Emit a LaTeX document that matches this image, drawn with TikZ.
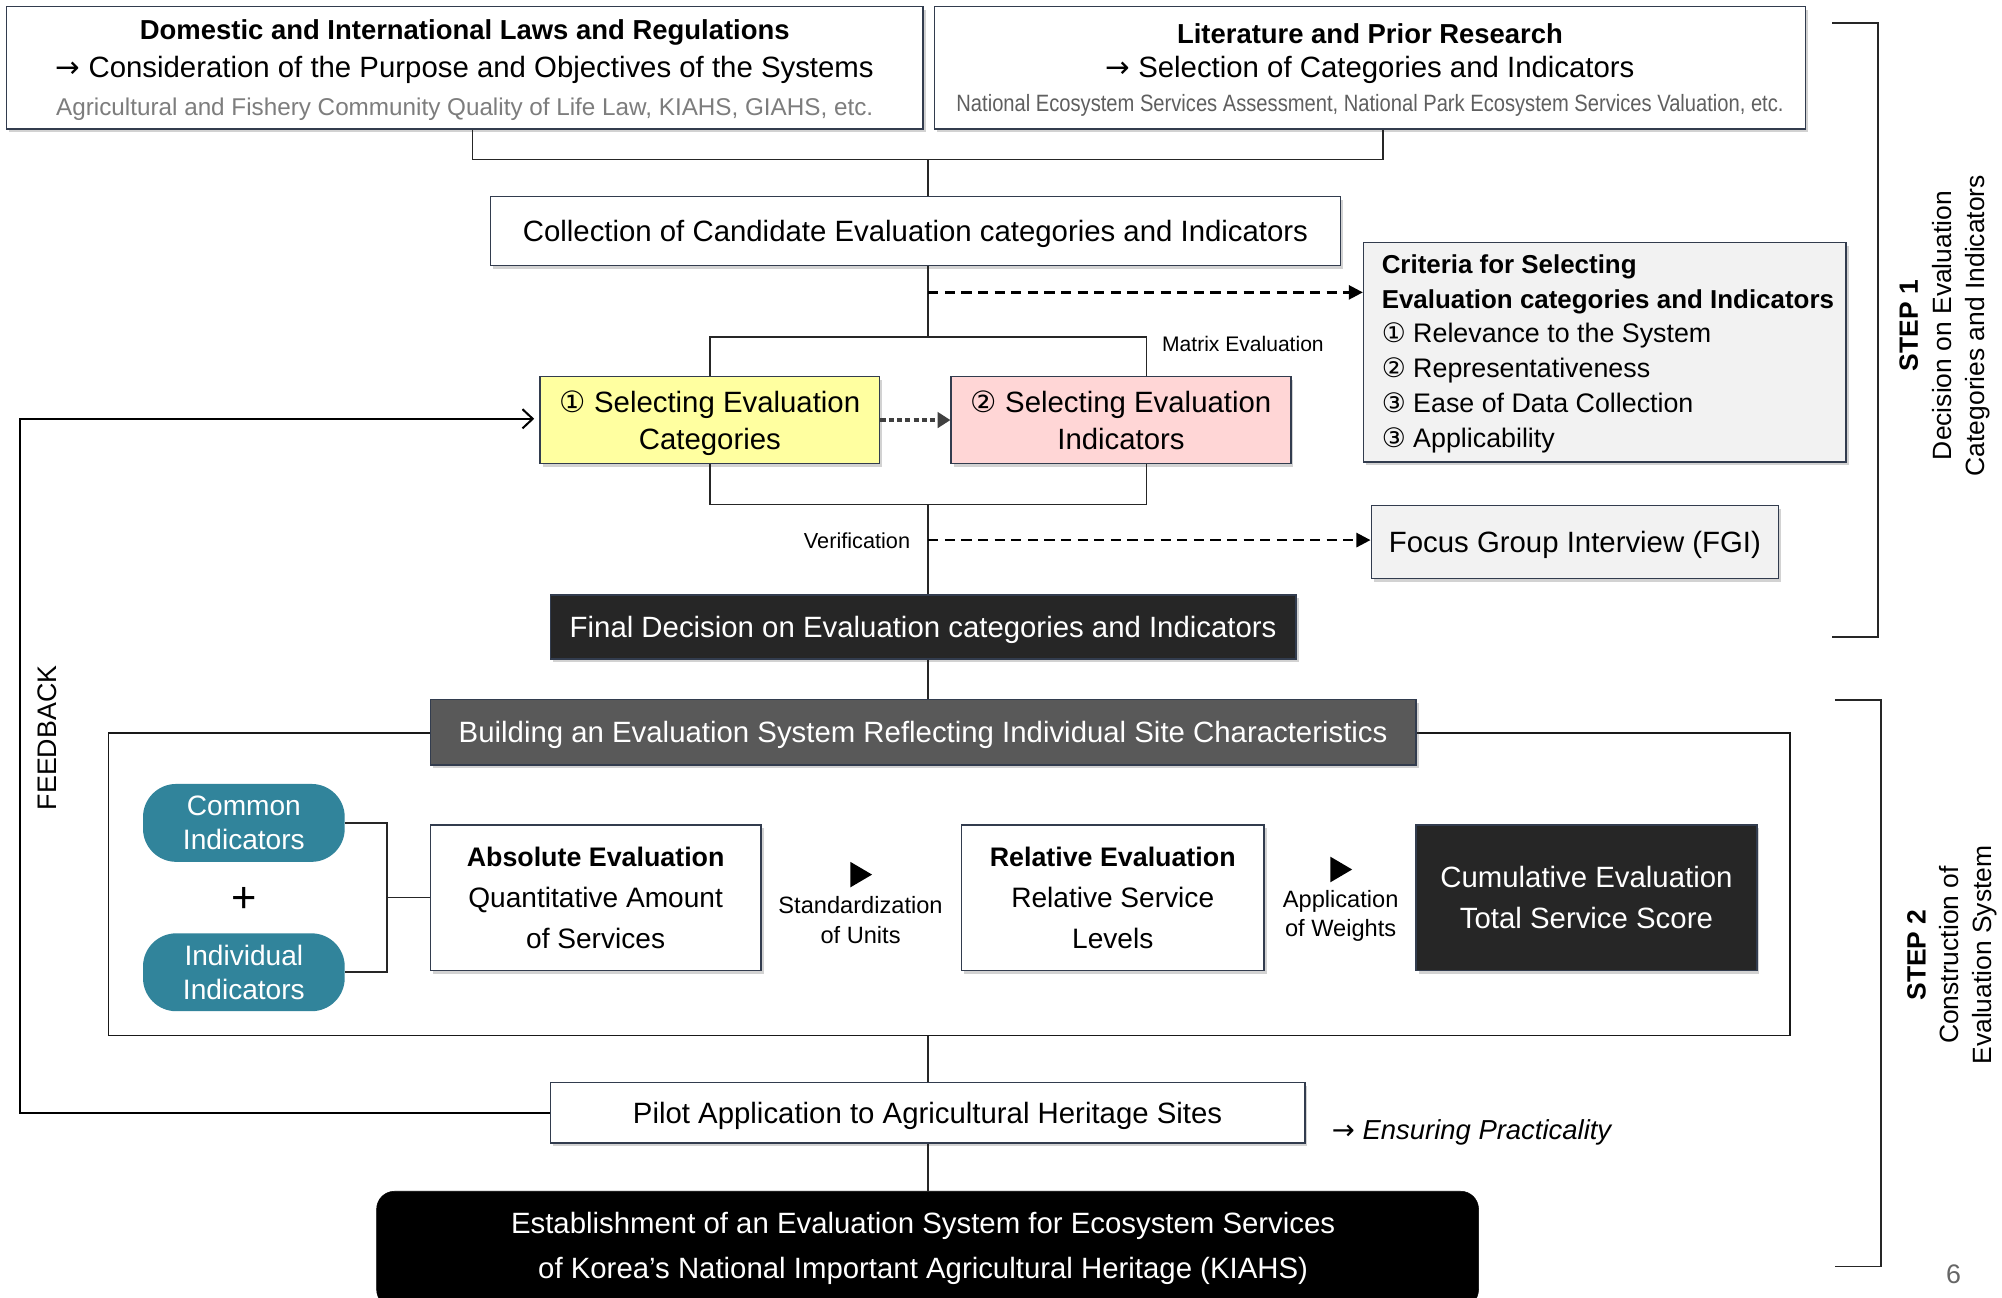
\documentclass[tikz,border=0pt]{standalone}
\usepackage{fontspec}
\usepackage{graphicx}
\setmainfont{Liberation Sans}
\newfontfamily\djv{DejaVu Sans}
\usetikzlibrary{arrows.meta,shadows,calc}
\definecolor{bd}{RGB}{50,60,78}
\definecolor{tealc}{RGB}{49,132,155}
\definecolor{yel}{RGB}{255,255,160}
\definecolor{pnk}{RGB}{255,214,214}
\definecolor{lgr}{RGB}{242,242,242}
\definecolor{dk}{RGB}{38,38,38}
\definecolor{mg}{RGB}{89,89,89}
\definecolor{gtxt}{RGB}{125,125,125}
\definecolor{gtxtb}{RGB}{95,95,95}
\newcommand{\fsz}[2]{\fontsize{#1}{#2}\selectfont}
\newcommand{\cd}[1]{{\djv #1}}
\begin{document}
\begin{tikzpicture}[x=1pt,y=-1pt,
  box/.style={draw=bd, line width=1.2pt, fill=white, inner sep=0pt, align=center, text depth=0pt,
    drop shadow={shadow xshift=2pt,shadow yshift=-2.5pt,opacity=0.25,fill=black!70}},
  conn/.style={draw=black!85, line width=1.3pt},
  dasharr/.style={draw=black, line width=2pt, dash pattern=on 8pt off 5pt, -{Triangle[length=11pt,width=11pt]}},
  smalldash/.style={draw=black!75, line width=2.6pt, dash pattern=on 4pt off 2.5pt, -{Triangle[length=10pt,width=12pt]}},
  fbarr/.style={draw=black, line width=1.6pt, -{Straight Barb[length=8pt,width=15pt,line width=1.6pt]}},
  txt/.style={inner sep=0pt, align=center},
  pill/.style={fill=tealc, rounded corners=26pt, inner sep=0pt, align=center, text=white,
    minimum width=158pt, minimum height=61pt, font=\fsz{22}{27}},
  brk/.style={draw=black!85, line width=1.3pt},
]
\fill[white] (0,0) rectangle (1568,1016);
\useasboundingbox (0,0) rectangle (1568,1016);

% ---------- top boxes
\node[box, minimum width=718pt, minimum height=96pt, font=\fsz{23}{29.5}] (A) at (364,53)
 {{\fsz{21.5}{29.5}\bfseries Domestic and International Laws and Regulations}\\
  {\fsz{23}{29.5}\mdseries \cd{→} Consideration of the Purpose and Objectives of the Systems}\\
  {\fsz{19}{29.5}\mdseries\color{gtxt}Agricultural and Fishery Community Quality of Life Law, KIAHS, GIAHS, etc.}};
\node[box, minimum width=682pt, minimum height=96pt, font=\fsz{23}{26.5}] (B) at (1073,53)
 {{\fsz{21.5}{26.5}\bfseries Literature and Prior Research}\\
  {\fsz{23}{26.5}\mdseries \cd{→} Selection of Categories and Indicators}\\
  {\color{gtxtb}\scalebox{0.853}[1]{\fsz{18.5}{26.5}\mdseries National Ecosystem Services Assessment, National Park Ecosystem Services Valuation, etc.}}};

\node[box, minimum width=666pt, minimum height=54pt, font=\fsz{23}{27}] (C) at (717,181)
 {Collection of Candidate Evaluation categories and Indicators};

\node[box, fill=yel, minimum width=266pt, minimum height=68pt, font=\fsz{23}{29}] (D) at (556,329)
 {\cd{①} Selecting Evaluation\\ Categories};
\node[box, fill=pnk, minimum width=266pt, minimum height=68pt, font=\fsz{23}{29}] (E) at (878,329)
 {\cd{②} Selecting Evaluation\\ Indicators};

\node[box, fill=lgr, minimum width=378pt, minimum height=172pt] (F) at (1257,276) {};
\node[txt, align=left, anchor=west, font=\fsz{21}{27.2}] (Ft) at (1082,277)
 {{\fsz{20.3}{27.2}\bfseries Criteria for Selecting}\\
  {\fsz{20.3}{27.2}\bfseries Evaluation categories and Indicators}\\
  \cd{①} Relevance to the System\\
  \cd{②} Representativeness\\
  \cd{③} Ease of Data Collection\\
  \cd{③} Applicability};

\node[box, fill=lgr, minimum width=319pt, minimum height=57pt, font=\fsz{23}{27}] (G) at (1233.5,424.5)
 {Focus Group Interview (FGI)};

\node[box, fill=dk, text=white, minimum width=584pt, minimum height=50pt, font=\fsz{23}{27}] (H) at (723,491)
 {Final Decision on Evaluation categories and Indicators};

% ---------- step 2 frame
\node[draw=black!90, line width=1.3pt, minimum width=1317pt, minimum height=237pt, inner sep=0pt] (frame) at (743.5,692.5) {};
\node[box, fill=mg, text=white, minimum width=772pt, minimum height=51pt, font=\fsz{23}{27}] (I) at (723,573.5)
 {Building an Evaluation System Reflecting Individual Site Characteristics};

\node[pill] (P1) at (191,644.5) {Common\\ Indicators};
\node[pill] (P2) at (191,761.5) {Individual\\ Indicators};
\node[txt, font=\fsz{34}{34}] (plus) at (191,705) {+};

\node[box, minimum width=259pt, minimum height=114pt, font=\fsz{22}{32}] (J) at (466.5,703)
 {{\fsz{21}{32}\bfseries Absolute Evaluation}\\ Quantitative Amount\\ of Services};
\node[box, minimum width=237pt, minimum height=114pt, font=\fsz{22}{32}] (K) at (871.5,703)
 {{\fsz{21}{32}\bfseries Relative Evaluation}\\ Relative Service\\ Levels};
\node[box, fill=dk, text=white, minimum width=267pt, minimum height=114pt, font=\fsz{23}{32}] (L) at (1242.5,703)
 {Cumulative Evaluation\\ Total Service Score};

\node[txt, font=\fsz{18.5}{23}] (stdz) at (674,720.5) {Standardization\\ of Units};
\node[txt, font=\fsz{18.5}{23}] (appw) at (1050,717.5) {Application\\ of Weights};
\fill[black] (666,675) -- (683,685) -- (666,695) -- cycle;
\fill[black] (1042,671) -- (1059,681) -- (1042,691) -- cycle;

\node[box, minimum width=591pt, minimum height=47pt, font=\fsz{23}{27}] (M) at (726.5,871.5)
 {Pilot Application to Agricultural Heritage Sites};
\node[txt, anchor=mid west, font=\fsz{21.5}{25}\itshape] (ens) at (1043,890) {\cd{→} Ensuring Practicality};

\node[fill=black, draw=black, rounded corners=14pt, minimum width=863pt, minimum height=91pt, inner sep=0pt] (N) at (726.5,978.5) {};
\node[txt, text=white, font=\fsz{23}{35}] (Nt) at (723,978)
 {Establishment of an Evaluation System for Ecosystem Services\\ of Korea’s National Important Agricultural Heritage (KIAHS)};

% ---------- labels
\node[txt, anchor=mid west, font=\fsz{16.5}{20}] (mtx) at (910,273) {Matrix Evaluation};
\node[txt, anchor=mid east, font=\fsz{17}{20}] (ver) at (713,427) {Verification};
\node[txt, rotate=90, font=\fsz{21}{21}] (fbt) at (37,578) {FEEDBACK};
\node[txt, rotate=90, font=\fsz{20.7}{26}] (s1) at (1523,255)
 {{\bfseries STEP 1}\\ Decision on Evaluation\\ Categories and Indicators};
\node[txt, rotate=90, font=\fsz{20.7}{26}] (s2) at (1529,748)
 {{\bfseries STEP 2}\\ Construction of\\ Evaluation System};
\node[txt, text=black!60, font=\fsz{21}{21}] (pg) at (1530,998) {6};

% ---------- connectors
\coordinate (jTop) at (727,125);
\coordinate (jMid) at (727,264);
\coordinate (jLow) at (727,395);
\coordinate (dA) at (727,229);
\coordinate (dV) at (727,423);
\coordinate (br) at (303,703);
\coordinate (fb) at (16,328);

\draw[conn] ([xshift=6pt]A.south) |- ([xshift=10pt]B.south |- jTop) -- ([xshift=10pt]B.south);
\draw[conn] (jTop) -- (jTop |- C.north);
\draw[conn] (jTop |- C.south) -- (jMid);
\draw[conn] (D.north) |- ([xshift=20pt]E.north |- jMid) -- ([xshift=20pt]E.north);
\draw[dasharr] (dA) -- (dA -| F.west);
\draw[smalldash] (D.east) -- (E.west);
\draw[conn] (D.south) |- ([xshift=20pt]E.south |- jLow) -- ([xshift=20pt]E.south);
\draw[conn] (jLow) -- (jLow |- H.north);
\draw[dasharr] (dV) -- (dV -| G.west);
\draw[conn] (jLow |- H.south) -- (jLow |- I.north);
\draw[conn] (P1.east) -| (br) |- (P2.east);
\draw[conn] (br) -- (br -| J.west);
\draw[conn] (jLow |- frame.south) -- (jLow |- M.north);
\draw[conn] (jLow |- M.south) -- (jLow |- N.north);
\draw[fbarr, shorten >=4pt] (M.west) -| (fb) -- (fb -| D.west);

% ---------- step brackets
\coordinate (b1a) at (1435,18);
\coordinate (b1b) at (1471,499);
\coordinate (b2a) at (1437,548);
\coordinate (b2b) at (1473,992);
\draw[brk] (b1a) -| (b1b) -- (b1b -| b1a);
\draw[brk] (b2a) -| (b2b) -- (b2b -| b2a);
\end{tikzpicture}
\end{document}
